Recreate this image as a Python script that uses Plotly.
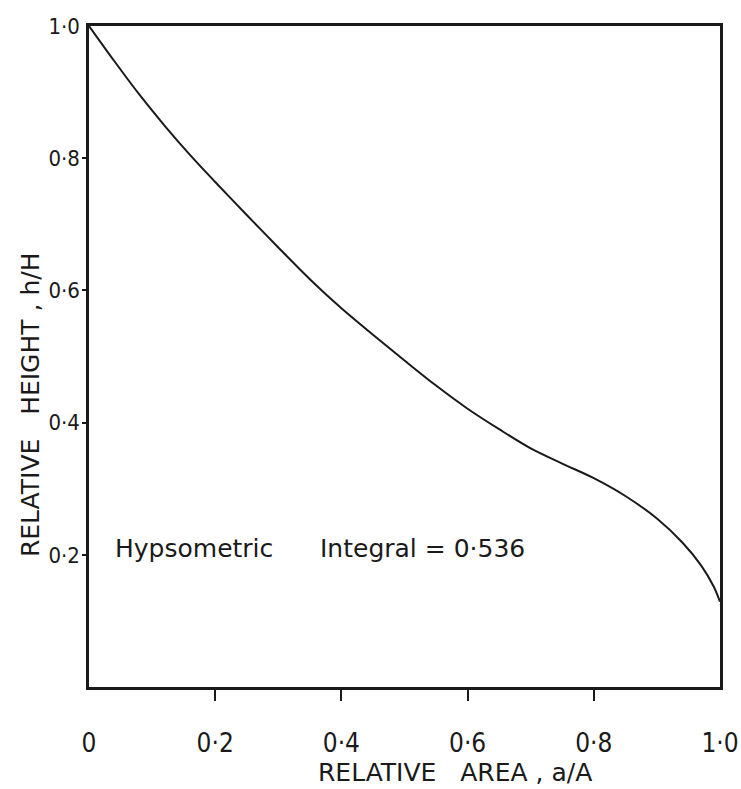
import plotly.graph_objects as go

# Hypsometric curve
rel_area = [0.0, 0.04, 0.08, 0.12, 0.16, 0.20, 0.25, 0.30, 0.35, 0.40, 0.45, 0.50,
            0.55, 0.60, 0.65, 0.70, 0.75, 0.80, 0.85, 0.90, 0.94, 0.97, 0.99, 1.0]
rel_height = [1.0, 0.947, 0.896, 0.849, 0.805, 0.764, 0.714, 0.665, 0.617, 0.573, 0.533, 0.494,
              0.456, 0.421, 0.390, 0.361, 0.338, 0.316, 0.289, 0.255, 0.219, 0.184, 0.152, 0.129]

x_tick_vals = [0, 0.2, 0.4, 0.6, 0.8, 1.0]
x_tick_text = ["0", "0·2", "0·4", "0·6", "0·8", "1·0"]
y_tick_vals = [0.2, 0.4, 0.6, 0.8, 1.0]
y_tick_text = ["0·2", "0·4", "0·6", "0·8", "1·0"]

FONT = "DejaVu Sans Condensed, Liberation Sans Narrow, sans-serif"
WIDE = "DejaVu Sans, sans-serif"
INK = "#1a1a1a"

fig = go.Figure()
fig.add_trace(go.Scatter(
    x=rel_area, y=rel_height, mode="lines",
    line=dict(color=INK, width=2, shape="spline", smoothing=0.9),
    showlegend=False, hoverinfo="skip",
))

fig.update_layout(
    width=741, height=789,
    margin=dict(l=89, r=21, t=26, b=102),
    paper_bgcolor="white", plot_bgcolor="white",
    font=dict(family=FONT, color=INK),
    xaxis=dict(
        range=[0, 1], showgrid=False, zeroline=False, automargin=False,
        showline=True, mirror=True, linecolor=INK, linewidth=2.5,
        tickmode="array", tickvals=x_tick_vals, ticktext=x_tick_text,
        ticks="", ticklabelstandoff=31,
        tickfont=dict(size=26, family=FONT, color=INK),
        minor=dict(tickmode="array", tickvals=[0.2, 0.4, 0.6, 0.8],
                   ticks="outside", ticklen=11, tickwidth=1.5, tickcolor=INK,
                   showgrid=False),
    ),
    yaxis=dict(
        range=[0, 1], showgrid=False, zeroline=False, automargin=False,
        showline=True, mirror=True, linecolor=INK, linewidth=2.5,
        tickmode="array", tickvals=y_tick_vals, ticktext=y_tick_text,
        ticks="", ticklabelstandoff=2,
        tickfont=dict(size=22, family=FONT, color=INK),
        minor=dict(tickmode="array", tickvals=[0.2, 0.4, 0.6, 0.8],
                   ticks="outside", ticklen=4, tickwidth=1.5, tickcolor=INK,
                   showgrid=False),
    ),
    annotations=[
        dict(text="Hypsometric",
             xref="x", yref="y", x=0.038, y=0.21, xanchor="left", yanchor="middle",
             showarrow=False, font=dict(size=25, family=WIDE, color=INK)),
        dict(text="Integral = 0·536",
             xref="x", yref="y", x=0.363, y=0.21, xanchor="left", yanchor="middle",
             showarrow=False, font=dict(size=25, family=WIDE, color=INK)),
        dict(text="RELATIVE&nbsp;&nbsp;&nbsp;AREA , a/A",
             xref="paper", yref="paper", x=0.58, y=-0.13,
             xanchor="center", yanchor="middle", showarrow=False,
             font=dict(size=25, family=WIDE, color=INK)),
        dict(text="RELATIVE&nbsp;&nbsp;&nbsp;HEIGHT , h/H",
             xref="paper", yref="paper", x=-0.093, y=0.427,
             xanchor="center", yanchor="middle", showarrow=False, textangle=-90,
             font=dict(size=25, family=WIDE, color=INK)),
    ],
)

fig.write_html("out.html", config={"displayModeBar": False},
               post_script="document.body.style.margin='0';")
